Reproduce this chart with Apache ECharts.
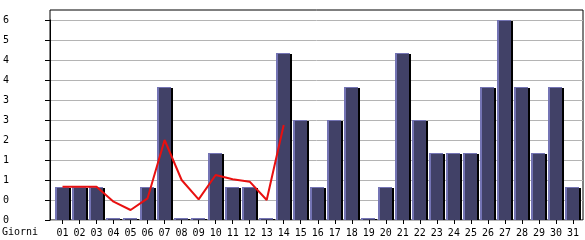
<!DOCTYPE html>
<html>
<head>
<meta charset="utf-8">
<script src="https://cdn.jsdelivr.net/npm/echarts@6/dist/echarts.min.js"></script>
<style>
html,body{margin:0;padding:0;background:#fff;}
#chart{width:585px;height:240px;}
</style>
</head>
<body>
<div id="chart"></div>
<script>
var categories = ['01','02','03','04','05','06','07','08','09','10','11','12','13','14','15','16','17','18','19','20','21','22','23','24','25','26','27','28','29','30','31'];
var visits = [1,1,1,0,0,1,4,0,0,2,1,1,0,5,3,1,3,4,0,1,5,3,2,2,2,4,6,4,2,4,1];
var trend = [1,1,1,0.55,0.3,0.65,2.4,1.2,0.62,1.35,1.22,1.15,0.6,2.85];
var yTickLabels = ['0','0','1','1','2','3','3','4','4','5','6'];
var xAxisTitle = 'Giorni';

var STEP = 0.6;
var YMAX = 6;
var FONT = 'DejaVu Sans Mono';

var chart = echarts.init(document.getElementById('chart'), null, {renderer: 'canvas'});

function renderBar(params, api) {
  var cat = api.value(0);
  var v = api.value(1);
  var top = api.coord([cat, v]);
  var base = api.coord([cat, 0]);
  var w = api.size([1, 0])[0];
  var bw = Math.round(w * 0.82);
  var x0 = Math.round(top[0] - bw / 2 - 0.5);
  var y0 = Math.round(top[1]);
  var yb = Math.round(base[1]);
  if (yb - y0 < 2) y0 = yb - 2;
  var h = yb - y0;
  return {
    type: 'group',
    children: [
      {type: 'rect', shape: {x: x0 + bw, y: y0 + 1, width: 2, height: h - 1}, style: {fill: '#000000'}},
      {type: 'rect', shape: {x: x0, y: y0, width: bw, height: h}, style: {fill: '#7474b4'}},
      {type: 'rect', shape: {x: x0 + 2, y: y0 + 1, width: bw - 2, height: Math.max(h - 1, 0)}, style: {fill: '#414167'}}
    ]
  };
}

var option = {
  animation: false,
  backgroundColor: '#ffffff',
  title: {
    text: xAxisTitle,
    left: 2,
    top: 227,
    padding: 0,
    textStyle: {fontFamily: FONT, fontSize: 10, fontWeight: 'normal', color: '#000'}
  },
  grid: [
    {left: 50, right: 2, top: 10, bottom: 20, show: true, borderColor: '#000', borderWidth: 1, backgroundColor: 'transparent'},
    {left: 50, right: 2, top: 20, bottom: 20},
    {left: 54, right: 3.5, top: 20, bottom: 20}
  ],
  xAxis: [
    {gridIndex: 0, type: 'value', show: false},
    {gridIndex: 1, type: 'value', show: false},
    {
      gridIndex: 2,
      type: 'category',
      data: categories,
      boundaryGap: true,
      axisLine: {show: false},
      axisTick: {show: true, alignWithLabel: true, length: 4, lineStyle: {color: '#000'}},
      axisLabel: {fontFamily: FONT, fontSize: 10, color: '#000', margin: 8, interval: 0},
      splitLine: {show: false}
    }
  ],
  yAxis: [
    {gridIndex: 0, type: 'value', show: false, min: 0, max: 1},
    {
      gridIndex: 1,
      type: 'value',
      min: 0,
      max: YMAX,
      interval: STEP,
      axisLine: {show: true, lineStyle: {color: '#000'}},
      axisTick: {show: true, length: 5, lineStyle: {color: '#000'}},
      axisLabel: {
        fontFamily: FONT, fontSize: 10, color: '#000', align: 'left', margin: 47,
        padding: [2, 0, 0, 0],
        formatter: function (v) {
          var i = Math.round(v / STEP);
          return yTickLabels[i] !== undefined ? yTickLabels[i] : '';
        }
      },
      splitLine: {show: true, lineStyle: {color: '#b4b4b4', width: 1}}
    },
    {gridIndex: 2, type: 'value', min: 0, max: YMAX, show: false}
  ],
  series: [
    {
      type: 'custom',
      xAxisIndex: 2,
      yAxisIndex: 2,
      renderItem: renderBar,
      data: visits.map(function (v, i) { return [i, v]; }),
      z: 3
    },
    {
      type: 'line',
      xAxisIndex: 2,
      yAxisIndex: 2,
      data: trend,
      showSymbol: false,
      symbol: 'none',
      lineStyle: {color: '#e81010', width: 2},
      z: 5
    }
  ]
};
chart.setOption(option);
</script>
</body>
</html>
